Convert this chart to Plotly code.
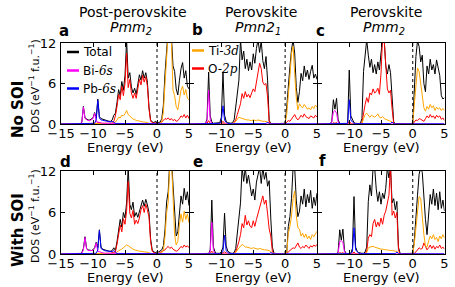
import numpy as np
import plotly.graph_objects as go

# ---------------- data (DOS on a 0.25 eV energy grid, -15 ... 5 eV) ----------------
energy = np.round(np.arange(81) * 0.25 - 15.0, 2)
z12 = [0] * 12

# panel a : Post-perovskite Pmm2, no SOI
tot_a = (z12 + [0, 0.3, 2.6, 0.9, 0.7, 0.6, 0.6, 0.7]
         + [0.9, 1.7, 0.9, 3.7, 1.1, 0.8, 0.7, 0.6, 0.5, 0.5, 0.4, 0.4, 0.6, 1.3, 1.6, 3.2, 5.1, 4.2, 6.3, 5.0]
         + [7.2, 12.5, 6.8, 7.6, 5.5, 4.6, 5.3, 4.4, 6.0, 7.3, 6.5, 7.9, 6.8, 7.6, 6.2, 2.5, 0.6, 0.3, 0.2, 0.4]
         + [0.1, 0.2, 0.3, 0.8, 2.8, 7.5, 13, 14, 13, 13, 8.6, 7.8, 5.2, 4.3, 6.4, 8.2, 9.1, 6.8, 7.9, 5.6, 5.2])
o2p_a = (z12 + [0, 0.05, 0.1, 0.1, 0.1, 0.1, 0.1, 0.1]
         + [0.1, 0.1, 0.1, 0.2, 0.1, 0.1, 0.1, 0.1, 0.1, 0.1, 0.1, 0.1, 0.1, 0.4, 1.2, 2.6, 4.4, 3.6, 5.6, 4.2]
         + [6.0, 10.5, 5.4, 6.6, 4.6, 3.8, 4.6, 3.8, 5.3, 6.6, 5.8, 7.2, 6.2, 7.0, 5.6, 2.2, 0.4, 0.2, 0.1, 0.2]
         + [0.05, 0.1, 0.1, 0.3, 0.6, 0.8, 0.7, 0.9, 0.6, 0.8, 0.5, 0.7, 0.4, 0.5, 0.8, 1.2, 1.0, 1.4, 0.9, 1.3, 0.8])
ti3d_a = ([0] * 20
          + z12 + [0.1, 0.2, 0.3, 0.6, 1.0, 0.9, 1.3, 1.2]
          + [1.5, 2.0, 1.4, 1.2, 0.9, 0.7, 0.7, 0.5, 0.5, 0.4, 0.4, 0.3, 0.3, 0.3, 0.2, 0.1, 0.05, 0.02, 0.02, 0.02]
          + [0.02, 0.05, 0.1, 0.4, 1.8, 6.0, 12.8, 13.5, 12.5, 12.2, 5.0, 4.2, 2.6, 2.1, 3.6, 5.0, 5.6, 4.3, 5.1, 3.8, 3.6])
bi6s_a = (z12 + [0, 0.2, 2.5, 0.8, 0.6, 0.5, 0.5, 0.6]
          + [0.8, 1.6, 0.4, 0.3, 0.2, 0.15, 0.1, 0.1, 0.1, 0.1, 0.05, 0.05, 0.05] + [0] * 7
          + [0] * 20 + [0] * 21)
pb6s_a = (z12 + [0, 0.05, 0.1, 0.1, 0.1, 0.1, 0.1, 0.1]
          + [0.1, 0.1, 0.6, 3.5, 0.9, 0.6, 0.55, 0.5, 0.4, 0.4, 0.3, 0.3, 0.4, 0.2, 0.1, 0.05, 0.05, 0.05, 0.05, 0.05]
          + [0.05] * 20 + [0.02] * 21)

# panel b : Perovskite Pmn2_1, no SOI
tot_b = ([0] * 10 + [0, 0.8, 7.7, 1.2, 0.3, 0.1, 0.1, 0.1, 0.1, 0.2]
         + [1.0, 7.7, 1.3, 0.4, 0.2, 0.1, 0.1, 0.2, 0.6, 2.5, 4.4, 6.5, 12.5, 9.5, 10.8, 8.2, 9.6, 7.9, 9.2, 8.0]
         + [10.4, 9.0, 11.2, 12.5, 10.6, 12.3, 9.4, 8.2, 10.0, 6.5, 0.5, 0.1] + [0.05] * 8
         + [0.1, 2.5, 6.4, 8.5, 11.0, 12.5, 10.5, 5.4, 3.2, 4.8, 7.5, 6.4, 8.6, 7.0, 8.0, 6.6, 7.8, 8.7, 6.8, 7.4, 6.6])
o2p_b = ([0] * 11 + [0.1, 0.5, 0.1] + [0] * 6
         + [0.1, 0.4, 0.1, 0, 0, 0, 0, 0.05, 0.2, 0.6, 1.4, 2.2, 3.0, 4.5, 3.8, 4.8, 4.0, 4.4, 3.9, 4.6]
         + [5.2, 4.8, 6.4, 7.8, 9.0, 8.2, 6.2, 5.8, 6.0, 4.0, 0.3, 0.05] + [0] * 8
         + [0, 0.3, 0.5, 0.4, 0.8, 1.0, 1.4, 0.9, 0.6, 0.9, 1.3, 1.0, 1.5, 1.1, 1.0, 0.8, 1.2, 1.0, 0.9, 1.3, 1.0])
ti3d_b = ([0] * 20
          + [0] * 8 + [0.1, 0.4, 0.7, 1.0, 0.9, 0.8, 0.7, 0.7, 0.6, 0.6, 0.5, 0.5]
          + [0.6, 0.5, 0.5, 0.6, 0.5, 0.5, 0.4, 0.4, 0.4, 0.3, 0.05, 0] + [0] * 8
          + [0.05, 1.5, 4.0, 7.0, 10.5, 11.5, 7.5, 3.9, 2.1, 3.0, 2.6, 2.4, 2.9, 2.5, 2.2, 2.4, 2.1, 2.6, 2.3, 2.8, 2.5])
bi6s_b = ([0] * 10 + [0, 0.5, 5.0, 0.6, 0.1] + [0] * 5
          + [0] * 20 + [0] * 20 + [0] * 21)
pb6s_b = ([0] * 19 + [0.1]
          + [0.5, 2.7, 0.6, 0.2, 0.1] + [0.05] * 15
          + [0.05] * 9 + [0.3, 0.05] + [0.02] * 9
          + [0.02] * 21)

# panel c : Perovskite Pmm2, no SOI
tot_c = ([0] * 8 + [0, 0.4, 3.6, 2.2, 3.8, 0.6, 0.1, 0, 0, 0, 0, 0.2]
         + [8.0, 1.2, 0.6, 0.2, 0.1, 0.05, 0.05, 0.1, 0.8, 7.8, 9.8, 12.5, 10.2, 8.4, 9.6, 7.6, 8.8, 7.4, 9.2, 8.0]
         + [10.5, 12.5, 12.5, 8.6, 7.4, 8.8, 7.6, 4.0, 0.3] + [0.05] * 11
         + [0.2, 6.5, 10.0, 12.3, 11.5, 9.2, 10.2, 6.0, 4.8, 8.6, 7.4, 9.6, 8.0, 8.8, 7.4, 9.5, 8.0, 7.2, 4.2, 3.7, 3.9])
o2p_c = ([0] * 10 + [0.2, 0.1, 0.2] + [0] * 7
         + [0.4, 0.1, 0, 0, 0, 0, 0, 0.02, 0.2, 1.9, 2.9, 3.9, 3.2, 4.6, 4.3, 5.2, 4.6, 4.8, 5.3, 4.4]
         + [7.5, 13.0, 12.5, 8.8, 5.2, 4.6, 5.0, 2.2, 0.1] + [0] * 11
         + [0, 0.3, 0.6, 0.5, 0.8, 0.7, 0.6, 0.4, 0.8, 1.2, 0.9, 1.4, 1.0, 1.2, 0.8, 1.3, 1.0, 1.2, 0.7, 0.9, 0.5])
ti3d_c = ([0] * 20
          + [0] * 8 + [0.1, 0.8, 1.4, 1.6, 1.2, 1.0, 1.3, 1.1, 1.0, 1.2, 1.5, 1.0]
          + [0.9, 1.1, 0.8, 0.7, 0.6, 0.5, 0.5, 0.3, 0.05] + [0] * 11
          + [0.1, 2.9, 5.5, 8.3, 7.8, 6.0, 4.8, 2.4, 1.9, 2.6, 2.2, 2.9, 2.4, 2.7, 2.0, 2.5, 2.2, 2.4, 2.0, 2.3, 2.0])
bi6s_c = ([0] * 8 + [0, 0.3, 1.8, 2.0, 1.6, 0.3] + [0] * 6
          + [0] * 20 + [0] * 20 + [0] * 21)
pb6s_c = ([0] * 19 + [0.1]
          + [3.6, 0.6, 0.3, 0.1] + [0.05] * 16
          + [0.05] * 7 + [0.3, 0.05] + [0.02] * 11
          + [0.02] * 21)

# panel d : Post-perovskite Pmm2, with SOI
tot_d = (z12 + [0, 0.2, 0.8, 2.5, 0.8, 0.6, 0.5, 0.5]
         + [0.6, 0.9, 1.7, 0.9, 3.5, 1.0, 0.7, 0.6, 0.5, 0.5, 0.4, 0.4, 0.5, 0.9, 0.5, 1.8, 3.6, 5.0, 3.9, 6.0]
         + [5.2, 7.4, 12.5, 7.2, 6.4, 7.5, 5.4, 6.0, 5.3, 6.1, 7.2, 7.8, 6.9, 7.9, 7.1, 6.0, 2.2, 0.6, 0.3, 0.2]
         + [0.1, 0.3, 0.5, 0.6, 1.2, 3.5, 7.5, 9.0, 13.5, 14, 10, 5.2, 2.6, 3.2, 6.2, 8.4, 7.2, 9.5, 7.8, 9.0, 7.0])
o2p_d = (z12 + [0, 0.05, 0.1, 0.1, 0.1, 0.1, 0.1, 0.1]
         + [0.1] * 12 + [0.2, 0.3, 0.3, 1.4, 3.0, 4.2, 3.2, 5.1]
         + [4.3, 6.2, 10.5, 5.9, 5.2, 6.3, 4.3, 4.9, 4.4, 5.2, 6.4, 7.0, 6.0, 7.2, 6.4, 5.3, 1.8, 0.4, 0.2, 0.1]
         + [0.05, 0.1, 0.2, 0.3, 0.4, 0.6, 0.9, 1.1, 0.8, 1.0, 0.7, 0.5, 0.4, 0.5, 0.9, 1.1, 0.9, 1.3, 1.0, 1.2, 0.9])
ti3d_d = ([0] * 20
          + z12 + [0.05, 0.05, 0.1, 0.3, 0.5, 0.6, 0.7, 0.9]
          + [1.0, 1.3, 1.2, 1.0, 0.8, 0.7, 0.6, 0.5, 0.5, 0.4, 0.4, 0.3, 0.3, 0.3, 0.2, 0.2, 0.1, 0.05, 0.02, 0.02]
          + [0.02, 0.05, 0.1, 0.2, 0.6, 2.5, 6.0, 7.5, 13.0, 13.5, 8.5, 2.8, 1.3, 1.8, 4.2, 5.8, 4.6, 6.2, 5.0, 5.8, 4.5])
bi6s_d = (z12 + [0, 0.1, 0.6, 2.4, 0.7, 0.5, 0.5, 0.5]
          + [0.5, 0.8, 1.6, 0.4, 0.3, 0.2, 0.15, 0.1, 0.1, 0.1, 0.05, 0.05, 0.05] + [0] * 7
          + [0] * 20 + [0] * 21)
pb6s_d = (z12 + [0, 0.05, 0.1, 0.1, 0.1, 0.1, 0.1, 0.1]
          + [0.1, 0.1, 0.1, 0.6, 3.4, 0.8, 0.6, 0.5, 0.45, 0.4, 0.35, 0.3, 0.35, 0.5, 0.2] + [0.05] * 5
          + [0.05] * 20 + [0.02] * 21)

# panel e : Perovskite Pmn2_1, with SOI
tot_e = (z12 + [0, 0.6, 7.8, 1.0, 0.3, 0.1, 0.1, 0.1]
         + [0.3, 1.0, 5.9, 1.2, 0.4, 0.2, 0.1, 0.1, 0.2, 0.8, 3.0, 5.6, 7.4, 12.5, 10.5, 12.5, 10.2, 11.4, 9.6, 8.4]
         + [9.4, 7.8, 10.4, 11.6, 12.5, 10.2, 12.5, 10.8, 11.8, 9.8, 10.6, 5.2, 1.0, 0.1] + [0.05] * 6
         + [0.05, 0.2, 4.0, 5.4, 8.0, 12.5, 12.5, 7.8, 5.4, 6.2, 8.4, 7.2, 9.4, 6.8, 8.6, 7.4, 9.2, 6.6, 8.2, 7.0, 8.8])
o2p_e = ([0] * 13 + [0.1, 0.4, 0.1] + [0] * 4
         + [0, 0.1, 0.3, 0.1, 0, 0, 0, 0, 0.05, 0.3, 1.0, 1.8, 2.8, 4.4, 3.8, 5.6, 4.2, 4.8, 4.0, 3.8]
         + [4.8, 4.0, 5.0, 5.8, 6.8, 7.6, 8.4, 7.2, 7.8, 5.8, 3.6, 2.6, 0.4, 0.05] + [0] * 6
         + [0, 0.05, 0.3, 0.5, 0.7, 0.9, 0.8, 1.2, 1.6, 1.0, 0.8, 1.1, 0.9, 1.3, 1.0, 0.8, 1.2, 1.0, 1.3, 1.1, 1.4])
ti3d_e = ([0] * 20
          + [0] * 9 + [0.2, 0.6, 0.9, 1.1, 1.4, 1.2, 1.0, 1.0, 0.9, 0.8, 0.8]
          + [0.9, 0.8, 0.8, 0.7, 0.8, 0.7, 0.7, 0.6, 0.6, 0.5, 0.5, 0.4, 0.1] + [0] * 7
          + [0, 0.1, 3.0, 4.0, 5.5, 8.0, 9.1, 5.5, 3.8, 3.6, 2.6, 3.0, 2.4, 2.9, 2.2, 2.6, 2.1, 2.8, 2.5, 3.0, 3.3])
bi6s_e = ([0] * 13 + [0.4, 4.6, 0.5, 0.1] + [0] * 3
          + [0] * 20 + [0] * 20 + [0] * 21)
pb6s_e = ([0] * 20
          + [0.05, 0.4, 2.7, 0.5, 0.2, 0.1] + [0.05] * 14
          + [0.05] * 11 + [0.2, 0.05] + [0.02] * 7
          + [0.02] * 21)

# panel f : Perovskite Pmm2, with SOI
tot_f = (z12 + [0, 0.3, 3.5, 2.0, 3.6, 0.5, 0.1, 0.05]
         + [0.05, 0.1, 0.8, 8.3, 1.0, 0.4, 0.2, 0.1, 0.1, 0.1, 0.3, 1.0, 7.6, 10.0, 8.4, 12.5, 12.5, 9.4, 7.6, 9.0]
         + [7.2, 8.8, 8.0, 9.5, 12.5, 11.0, 12.5, 7.4, 8.0, 6.4, 7.6, 1.0, 0.1] + [0.05] * 7
         + [0.1, 2.0, 6.2, 8.5, 11.5, 12.5, 11.8, 7.6, 5.0, 2.8, 6.4, 8.6, 7.2, 9.4, 7.0, 8.8, 6.4, 9.0, 6.6, 7.8, 6.2])
o2p_f = ([0] * 14 + [0.2, 0.1, 0.2] + [0] * 3
         + [0, 0, 0.05, 0.3, 0.05, 0, 0, 0, 0, 0, 0.05, 0.4, 2.3, 2.8, 2.5, 4.4, 5.0, 3.9, 4.6, 4.0]
         + [5.2, 4.3, 5.6, 6.2, 7.6, 8.5, 13.0, 5.6, 6.2, 5.2, 6.0, 0.6, 0.05] + [0] * 7
         + [0, 0.1, 0.3, 0.6, 0.9, 0.7, 0.8, 1.6, 1.2, 0.6, 0.9, 1.3, 0.8, 1.2, 0.7, 1.1, 0.9, 1.3, 0.8, 1.0, 0.7])
ti3d_f = ([0] * 20
          + [0] * 11 + [0.2, 0.9, 1.0, 1.1, 1.1, 1.0, 0.9, 0.8, 0.8]
          + [0.7, 0.7, 0.6, 0.6, 0.6, 0.5, 0.5, 0.5, 0.4, 0.4, 0.4, 0.1] + [0] * 8
          + [0.05, 1.5, 3.8, 6.0, 8.3, 8.1, 5.2, 2.8, 1.1, 1.0, 1.9, 2.6, 2.2, 2.8, 2.1, 2.4, 1.8, 2.6, 2.2, 2.8, 2.3])
bi6s_f = ([0] * 13 + [0.2, 1.8, 1.9, 1.7, 0.3, 0.05, 0]
          + [0] * 20 + [0] * 20 + [0] * 21)
pb6s_f = ([0] * 20
          + [0, 0.05, 0.3, 3.8, 0.6, 0.3, 0.1] + [0.05] * 13
          + [0.05] * 10 + [0.3, 0.05] + [0.02] * 8
          + [0.02] * 21)

series_names = ["Total", "O-2p", "Ti-3d", "Bi-6s", "Pb-6s"]
series_colors = ["black", "#ff0000", "#ffa500", "#ff00ff", "#0000ff"]
panel_letters = ["a", "b", "c", "d", "e", "f"]
panel_data = [
    [tot_a, o2p_a, ti3d_a, bi6s_a, pb6s_a],
    [tot_b, o2p_b, ti3d_b, bi6s_b, pb6s_b],
    [tot_c, o2p_c, ti3d_c, bi6s_c, pb6s_c],
    [tot_d, o2p_d, ti3d_d, bi6s_d, pb6s_d],
    [tot_e, o2p_e, ti3d_e, bi6s_e, pb6s_e],
    [tot_f, o2p_f, ti3d_f, bi6s_f, pb6s_f],
]
for pd_ in panel_data:
    for s in pd_:
        assert len(s) == 81, len(s)

x_ticks_first = [-15, -10, -5, 0, 5]
x_ticks_other = [-10, -5, 0, 5]
y_ticks = [0, 6, 12]

# ---------------- layout ----------------
W, H = 455, 287
col_px = [(61, 189), (189.5, 317), (317.5, 444.5)]
row_px = [(43, 124), (171, 254)]
FONT = "DejaVu Sans"


def px(x, y):
    return x / W, 1 - y / H


def note(text, x, y, size, **kw):
    ax_, ay_ = px(x, y)
    d = dict(text=text, x=ax_, y=ay_, xref="paper", yref="paper", showarrow=False,
             xanchor="center", yanchor="middle", font=dict(size=size, family=FONT, color="black"))
    d.update(kw)
    return d


fig = go.Figure()
layout = dict(width=W, height=H, margin=dict(l=0, r=0, t=0, b=0, pad=0), autosize=False,
              paper_bgcolor="white", plot_bgcolor="white", showlegend=False,
              font=dict(family=FONT, color="black"))
shapes, annotations = [], []

for k in range(6):
    r, c = divmod(k, 3)
    sfx = "" if k == 0 else str(k + 1)
    for name, col, vals in zip(series_names, series_colors, panel_data[k]):
        fig.add_trace(go.Scatter(x=energy, y=vals, mode="lines", name=name,
                                 line=dict(color=col, width=1),
                                 xaxis="x" + sfx, yaxis="y" + sfx))
    common = dict(ticks="inside", ticklen=4, tickwidth=1, tickcolor="black",
                  showline=True, linecolor="black", linewidth=1, mirror="ticks",
                  showgrid=False, zeroline=False, automargin=False,
                  tickfont=dict(family=FONT, size=13, color="black"))
    layout["xaxis" + sfx] = dict(domain=[col_px[c][0] / W, col_px[c][1] / W], anchor="y" + sfx,
                                 range=[-15, 5], tickvals=x_ticks_first if c == 0 else x_ticks_other,
                                 ticklabelstandoff=-3, **common)
    layout["yaxis" + sfx] = dict(domain=[1 - row_px[r][1] / H, 1 - row_px[r][0] / H], anchor="x" + sfx,
                                 range=[0, 12], tickvals=y_ticks, showticklabels=(c == 0),
                                 ticklabelstandoff=1, **common)
    # Fermi level
    shapes.append(dict(type="line", xref="x" + sfx, yref="y" + sfx + " domain",
                       x0=0, x1=0, y0=0, y1=1, line=dict(color="black", width=1, dash="dot")))
    # x axis title
    cx = (col_px[c][0] + col_px[c][1]) / 2
    annotations.append(note("Energy (eV)", cx, 147 if r == 0 else 277, 13))

# panel letters
letter_pos = [(64, 31), (197.5, 30), (320, 31), (65, 162), (197.5, 162), (322, 161)]
for lt, (lx, ly) in zip(panel_letters, letter_pos):
    annotations.append(note("<b>%s</b>" % lt, lx, ly, 15))

# column titles
titles = [("Post-perovskite", "<i>Pmm<sub>2</sub></i>", 133, 131),
          ("Perovskite", "<i>Pmn2<sub>1</sub></i>", 261, 258),
          ("Perovskite", "<i>Pmm<sub>2</sub></i>", 386, 384)]
for t1, t2, x1, x2 in titles:
    annotations.append(note(t1, x1, 12, 14))
    annotations.append(note(t2, x2, 28, 14))

# row labels
for txt, yy in [("<b>No SOI</b>", 110), ("<b>With SOI</b>", 230)]:
    annotations.append(note(txt, 18, yy, 15, textangle=-90))
for yy in [86, 216]:
    annotations.append(note("DOS (eV<sup>−1</sup> f.u.<sup>−1</sup>)", 34, yy, 11, textangle=-90))

# legends
ital = "<span style=\"font-family:'DejaVu Serif';font-style:italic\">%s</span>"
legend_items = [("Total", "black", 67, 52), ("Bi-" + ital % "6s", "#ff00ff", 67, 70.5),
                ("Pb-" + ital % "6s", "#0000ff", 67, 88.5),
                ("Ti-" + ital % "3d", "#ffa500", 192, 50.5), ("O-" + ital % "2p", "#ff0000", 192, 68.5)]
for txt, col, lx, ly in legend_items:
    x0, y0 = px(lx, ly)
    x1, _ = px(lx + 12, ly)
    shapes.append(dict(type="line", xref="paper", yref="paper", x0=x0, x1=x1, y0=y0, y1=y0,
                       line=dict(color=col, width=2.5)))
    annotations.append(note(txt, lx + 14, ly, 12, xanchor="left"))

layout["shapes"] = shapes
layout["annotations"] = annotations
fig.update_layout(**layout)
fig.write_html("out.html")
